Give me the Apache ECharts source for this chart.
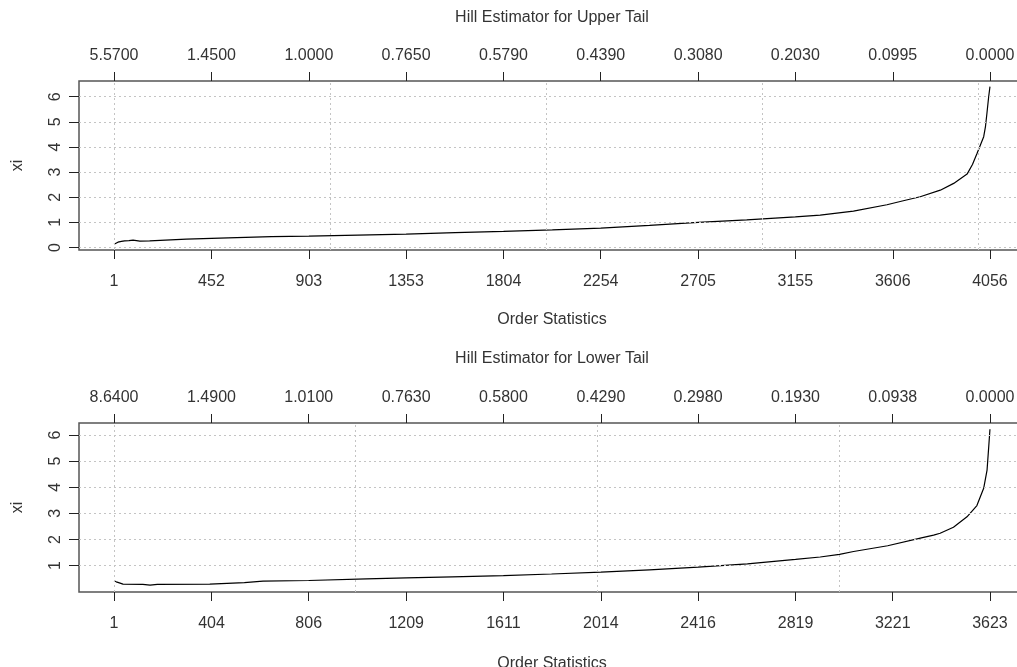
<!DOCTYPE html>
<html>
<head>
<meta charset="utf-8">
<script src="https://cdn.jsdelivr.net/npm/echarts@6/dist/echarts.min.js"></script>
<style>
html,body{margin:0;padding:0;background:#fff;}
#c{width:1017px;height:667px;}
</style>
</head>
<body>
<div id="c"></div>
<script>
// ---- data ----
const upperTitle = 'Hill Estimator for Upper Tail';
const lowerTitle = 'Hill Estimator for Lower Tail';
const upperX = [1, 4, 10, 19, 35, 50, 70, 89, 105, 120, 166, 170, 336, 529, 730, 903, 1130, 1353, 1580, 1804, 2030, 2254, 2480, 2705, 2930, 3155, 3270, 3424, 3579, 3650, 3733, 3826, 3888, 3950, 3975, 3996, 4015, 4027, 4035, 4042, 4050, 4056];
const upperY = [0.13, 0.13, 0.19, 0.21, 0.24, 0.26, 0.27, 0.29, 0.27, 0.25, 0.26, 0.30, 0.33, 0.38, 0.43, 0.45, 0.49, 0.53, 0.59, 0.64, 0.70, 0.77, 0.88, 1.00, 1.10, 1.22, 1.29, 1.45, 1.70, 1.85, 2.02, 2.28, 2.55, 2.92, 3.30, 3.74, 4.15, 4.41, 4.80, 5.34, 6.00, 6.40];
const lowerX = [1, 4, 10, 20, 38, 120, 150, 180, 397, 400, 540, 617, 806, 1045, 1209, 1400, 1611, 1810, 2014, 2215, 2416, 2620, 2819, 2921, 3001, 3059, 3200, 3335, 3390, 3417, 3472, 3528, 3569, 3597, 3611, 3617, 3623];
const lowerY = [0.42, 0.44, 0.38, 0.35, 0.29, 0.28, 0.25, 0.28, 0.29, 0.33, 0.35, 0.41, 0.43, 0.49, 0.53, 0.57, 0.62, 0.68, 0.75, 0.84, 0.94, 1.07, 1.24, 1.33, 1.43, 1.54, 1.76, 2.05, 2.17, 2.24, 2.47, 2.87, 3.30, 3.96, 4.66, 5.43, 6.22];
const upperTicks = [1, 452, 903, 1353, 1804, 2254, 2705, 3155, 3606, 4056];
const upperThresh = ['5.5700', '1.4500', '1.0000', '0.7650', '0.5790', '0.4390', '0.3080', '0.2030', '0.0995', '0.0000'];
const lowerTicks = [1, 404, 806, 1209, 1611, 2014, 2416, 2819, 3221, 3623];
const lowerThresh = ['8.6400', '1.4900', '1.0100', '0.7630', '0.5800', '0.4290', '0.2980', '0.1930', '0.0938', '0.0000'];
const upperYTicks = [0, 1, 2, 3, 4, 5, 6];
const lowerYTicks = [1, 2, 3, 4, 5, 6];
const upperGridX = [0, 1000, 2000, 3000, 4000];
const lowerGridX = [0, 1000, 2000, 3000];
const upperGridY = [0, 1, 2, 3, 4, 5, 6];
const lowerGridY = [1, 2, 3, 4, 5, 6];
// axis ranges (R style 4% extension)
const upperXRange = [-161.2, 4218.2];
const lowerXRange = [-143.9, 3767.9];
const upperYRange = [-0.1, 6.625];
const lowerYRange = [-0.01, 6.46];

const FONT = 'Liberation Sans, Arial, sans-serif';
const TXT = '#333';
const zip = (xs, ys) => xs.map((x, i) => [x, ys[i]]);

function bottomAxis(gridIndex, range, ticks, gap) {
  return {
    type: 'value', gridIndex, position: 'bottom', min: range[0], max: range[1],
    axisLine: {show: false, onZero: false}, splitLine: {show: false},
    axisTick: {show: true, length: 9, customValues: ticks, lineStyle: {color: '#222', width: 1}},
    axisLabel: {customValues: ticks, margin: 24, fontSize: 16, fontFamily: FONT, color: TXT,
      formatter: v => String(v)},
    name: 'Order Statistics', nameLocation: 'middle', nameGap: gap,
    nameTextStyle: {fontSize: 16, fontFamily: FONT, color: TXT}
  };
}
function topAxis(gridIndex, range, ticks, labels) {
  return {
    type: 'value', gridIndex, position: 'top', min: range[0], max: range[1],
    axisLine: {show: false, onZero: false}, splitLine: {show: false},
    axisTick: {show: true, length: 9, customValues: ticks, lineStyle: {color: '#222', width: 1}},
    axisLabel: {customValues: ticks, margin: 17, fontSize: 16, fontFamily: FONT, color: TXT,
      formatter: v => labels[ticks.indexOf(v)]}
  };
}
function leftAxis(gridIndex, range, ticks) {
  return {
    type: 'value', gridIndex, position: 'left', min: range[0], max: range[1],
    axisLine: {show: false, onZero: false}, splitLine: {show: false},
    axisTick: {show: true, length: 10, customValues: ticks, lineStyle: {color: '#222', width: 1}},
    axisLabel: {customValues: ticks, rotate: 90, margin: 15, fontSize: 16, fontFamily: FONT, color: TXT},
    name: 'xi', nameLocation: 'middle', nameGap: 53, nameRotate: 90,
    nameTextStyle: {fontSize: 16, fontFamily: FONT, color: TXT}
  };
}
const gridLineStyle = {type: [2, 3], color: '#c4c4c4', width: 1};
function gridSeries(xi, yi, gx, gy) {
  return {
    type: 'line', xAxisIndex: xi, yAxisIndex: yi, data: [], z: 1, silent: true,
    markLine: {
      silent: true, symbol: ['none', 'none'], animation: false, label: {show: false},
      lineStyle: gridLineStyle,
      data: gx.map(v => ({xAxis: v})).concat(gy.map(v => ({yAxis: v})))
    }
  };
}

const chart = echarts.init(document.getElementById('c'), null, {renderer: 'canvas'});
chart.setOption({
  animation: false,
  backgroundColor: '#fff',
  graphic: [
    {type: 'text', x: 552, y: 18, style: {text: upperTitle, fontSize: 16, fontFamily: FONT, fill: TXT, align: 'center', verticalAlign: 'middle'}},
    {type: 'text', x: 552, y: 359, style: {text: lowerTitle, fontSize: 16, fontFamily: FONT, fill: TXT, align: 'center', verticalAlign: 'middle'}}
  ],
  grid: [
    {left: 79, top: 81, right: -8, height: 169, show: true, borderColor: '#555', borderWidth: 1.5,
      backgroundColor: 'transparent', containLabel: false, outerBoundsMode: 'none'},
    {left: 79, top: 423, right: -8, height: 169, show: true, borderColor: '#555', borderWidth: 1.5,
      backgroundColor: 'transparent', containLabel: false, outerBoundsMode: 'none'}
  ],
  xAxis: [
    bottomAxis(0, upperXRange, upperTicks, 62),
    topAxis(0, upperXRange, upperTicks, upperThresh),
    bottomAxis(1, lowerXRange, lowerTicks, 64),
    topAxis(1, lowerXRange, lowerTicks, lowerThresh)
  ],
  yAxis: [
    leftAxis(0, upperYRange, upperYTicks),
    leftAxis(1, lowerYRange, lowerYTicks)
  ],
  series: [
    gridSeries(0, 0, upperGridX, upperGridY),
    gridSeries(2, 1, lowerGridX, lowerGridY),
    {type: 'line', xAxisIndex: 0, yAxisIndex: 0, data: zip(upperX, upperY), showSymbol: false, z: 3,
      lineStyle: {color: '#000', width: 1.2}},
    {type: 'line', xAxisIndex: 2, yAxisIndex: 1, data: zip(lowerX, lowerY), showSymbol: false, z: 3,
      lineStyle: {color: '#000', width: 1.2}}
  ]
});
</script>
</body>
</html>
